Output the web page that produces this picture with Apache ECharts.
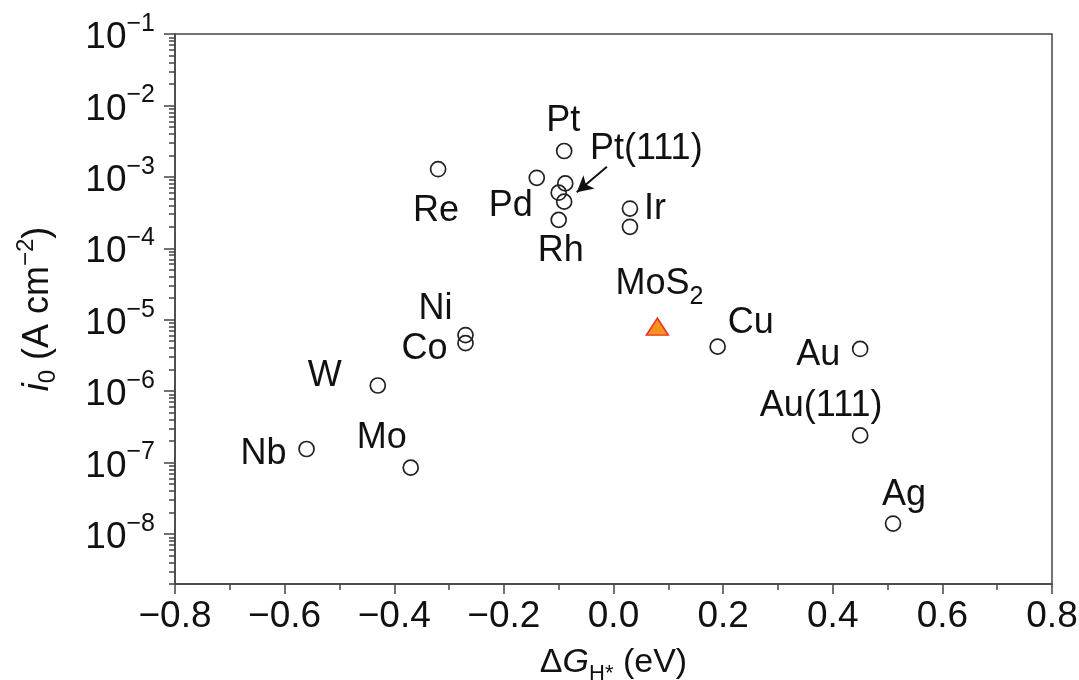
<!DOCTYPE html>
<html><head><meta charset="utf-8">
<script src="https://cdn.jsdelivr.net/npm/echarts@6/dist/echarts.min.js"></script>
<style>html,body{margin:0;padding:0;background:#fff}#c{width:1079px;height:680px}</style>
</head><body><div id="c"></div>
<script>
// ---- data ----
const metalNames = ['Pt','Pt(111)','','','Pd','Re','Rh','Ir','','Ni','Co','W','Nb','Mo','Cu','Au','Au(111)','Ag'];
const metalDG    = [-0.09,-0.088,-0.10,-0.09,-0.14,-0.32,-0.10,0.03,0.03,-0.27,-0.27,-0.43,-0.56,-0.37,0.19,0.45,0.45,0.51];
const metalI0    = [2.3e-3,8.1e-4,6.0e-4,4.5e-4,9.7e-4,1.28e-3,2.5e-4,3.6e-4,2.0e-4,6.1e-6,4.7e-6,1.2e-6,1.55e-7,8.5e-8,4.2e-6,3.9e-6,2.4e-7,1.4e-8];
const mos2Names = ['MoS2'];
const mos2DG    = [0.08];
const mos2I0    = [8.0e-6];
const yMajorTicks = [1e-1,1e-2,1e-3,1e-4,1e-5,1e-6,1e-7,1e-8];
const yMin = Math.pow(10,-8.7), yMax = 1e-1;
const xMin = -0.8, xMax = 0.8, xInterval = 0.2;
const arrowFrom = [-0.012, 1.39e-3];
const arrowTo   = [-0.067, 6.1e-4];

// minor log ticks 2..9 x 10^n
const yMinorTicks = [];
for (let e = -9; e <= -2; e++) for (let k = 2; k <= 9; k++) yMinorTicks.push(k * Math.pow(10, e));

// ---- styles ----
const FONT = 'Liberation Sans';
const TXT = '#111';
const AX = '#444';
const labelOffset = {
  'Pt':[-1,-30], 'Pt(111)':[81,-34], 'Pd':[-26,28], 'Re':[-2,42], 'Rh':[2,31], 'Ir':[25,1],
  'Ni':[-30,-26], 'Co':[-41,6], 'W':[-53,-9], 'Nb':[-43,5], 'Mo':[-29,-30], 'Cu':[33,-24],
  'Au':[-42,6], 'Au(111)':[-39,-29], 'Ag':[11,-28], 'MoS2':[2,-39]
};
function fmtX(v){ const s = Math.abs(v).toFixed(1); return v < -1e-9 ? '\u2212' + s : s; }
function fmtY(v){ const e = Math.round(Math.log10(v)); return '{b|10}{s|' + (e < 0 ? '\u2212' : '') + Math.abs(e) + '}'; }

const metalData = metalNames.map((n, i) => {
  const d = { value: [metalDG[i], metalI0[i]], name: n };
  if (n) d.label = { show: true, offset: labelOffset[n] };
  return d;
});
const mos2Data = mos2Names.map((n, i) => ({ value: [mos2DG[i], mos2I0[i]], name: n, label: { show: true, offset: labelOffset[n] } }));

const chart = echarts.init(document.getElementById('c'), null, { renderer: 'canvas' });
chart.setOption({
  animation: false,
  backgroundColor: '#fff',
  textStyle: { fontFamily: FONT },
  grid: { left: 175, right: 27, top: 34, bottom: 96, show: true, borderColor: AX, borderWidth: 1.5, containLabel: false, outerBoundsMode: 'none' },
  xAxis: {
    type: 'value', min: xMin, max: xMax, interval: xInterval,
    splitLine: { show: false },
    axisLine: { onZero: false, lineStyle: { color: AX, width: 1.5 } },
    axisTick: { length: 10, lineStyle: { color: AX, width: 1.5 } },
    minorTick: { show: true, splitNumber: 2, length: 6, lineStyle: { color: AX, width: 1.5 } },
    axisLabel: { formatter: fmtX, fontSize: 37, color: TXT, fontFamily: FONT, margin: 14 },
    name: '{d|\u0394}{g|G}{s|H*}{d| (eV)}', nameLocation: 'middle', nameGap: 57,
    nameTextStyle: { rich: {
      d: { fontSize: 34, color: TXT, fontFamily: FONT },
      g: { fontSize: 34, color: TXT, fontFamily: FONT, fontStyle: 'italic' },
      s: { fontSize: 22, color: TXT, fontFamily: FONT, padding: [22, 0, 0, 0] }
    } }
  },
  yAxis: [{
    type: 'log', logBase: 10, min: yMin, max: yMax, position: 'left',
    splitLine: { show: false },
    axisLine: { onZero: false, lineStyle: { color: AX, width: 1.5 } },
    axisTick: { length: 11, customValues: yMajorTicks, lineStyle: { color: AX, width: 1.5 } },
    axisLabel: { customValues: yMajorTicks, formatter: fmtY, margin: 20, rich: {
      b: { fontSize: 37, color: TXT, fontFamily: FONT, verticalAlign: 'bottom' },
      s: { fontSize: 25, color: TXT, fontFamily: FONT, verticalAlign: 'bottom', padding: [0, 0, 20, 0] }
    } },
    name: '{i|i}{sub|0}{n| (A cm}{sup|\u22122}{n|)}', nameLocation: 'middle', nameRotate: 90, nameGap: 113,
    nameTextStyle: { rich: {
      i: { fontSize: 36, color: TXT, fontFamily: FONT, fontStyle: 'italic' },
      n: { fontSize: 36, color: TXT, fontFamily: FONT },
      sub: { fontSize: 24, color: TXT, fontFamily: FONT, padding: [20, 0, 0, 0] },
      sup: { fontSize: 24, color: TXT, fontFamily: FONT, padding: [0, 0, 24, 0] }
    } }
  }, {
    type: 'log', logBase: 10, min: yMin, max: yMax, position: 'left', offset: 0,
    splitLine: { show: false },
    axisLine: { show: false, onZero: false },
    axisTick: { length: 6, customValues: yMinorTicks, lineStyle: { color: AX, width: 1.5 } },
    axisLabel: { show: false }
  }],
  series: [{
    type: 'scatter', name: 'metals', yAxisIndex: 0,
    symbol: 'circle', symbolSize: 15,
    itemStyle: { color: 'rgba(255,255,255,0)', borderColor: '#222', borderWidth: 1.7, opacity: 1 },
    label: { show: false, position: 'inside', formatter: p => p.name, fontSize: 36, color: TXT, opacity: 1, fontFamily: FONT },
    emphasis: { disabled: true },
    data: metalData,
    markLine: {
      silent: true, animation: false,
      symbol: ['none', 'arrow'], symbolSize: [13, 16],
      lineStyle: { color: '#111', width: 2, type: 'solid', opacity: 1 },
      label: { show: false },
      data: [[{ coord: arrowFrom }, { coord: arrowTo }]]
    }
  }, {
    type: 'scatter', name: 'MoS2', yAxisIndex: 0,
    symbol: 'triangle', symbolSize: [22, 17],
    itemStyle: { color: '#f7941d', borderColor: '#e8352a', borderWidth: 1.5, opacity: 1 },
    label: { show: true, position: 'inside', opacity: 1, formatter: () => '{b|MoS}{s|2}', rich: {
      b: { fontSize: 36, color: TXT, fontFamily: FONT, verticalAlign: 'top' },
      s: { fontSize: 25, color: TXT, fontFamily: FONT, verticalAlign: 'top', padding: [18, 0, 0, 0] }
    } },
    emphasis: { disabled: true },
    data: mos2Data
  }]
});
</script></body></html>
